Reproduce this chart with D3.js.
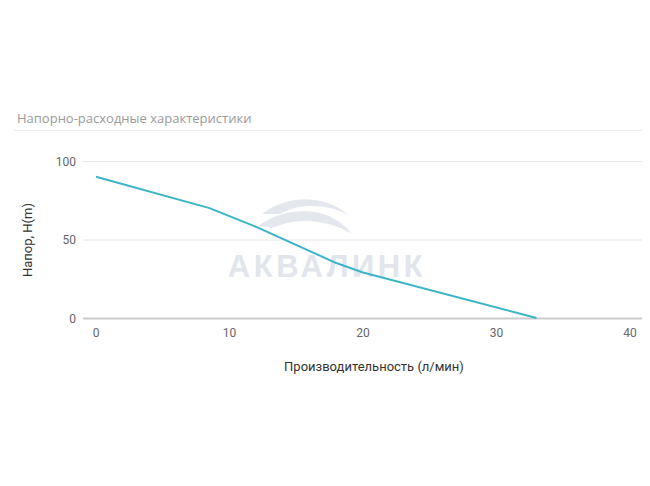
<!DOCTYPE html>
<html><head><meta charset="utf-8">
<script src="https://cdn.jsdelivr.net/npm/d3@7"></script>
<style>body{margin:0;background:#fff;}svg{display:block;}</style>
</head><body>
<svg id="c" width="650" height="486"></svg>
<script>
const flow = [0, 8.5, 12, 18, 20, 33];
const head = [90, 70, 58, 35, 29, 0];
const xTicks = [0, 10, 20, 30, 40];
const yTicks = [0, 50, 100];
const title = "Напорно-расходные характеристики";
const xTitle = "Производительность (л/мин)";
const yTitle = "Напор, H(m)";
const watermark = "АКВАЛИНК";

const svg = d3.select("#c");
const font = "Roboto, 'Noto Sans', sans-serif";
const x = d3.scaleLinear().domain([0, 40]).range([96, 630]);
const y = d3.scaleLinear().domain([0, 100]).range([318, 161]);

svg.append("text").attr("x", 17).attr("y", 123).attr("font-family", "'Open Sans', sans-serif")
  .attr("font-size", 13).attr("fill", "#9a9a9a").text(title);
svg.append("line").attr("x1", 14).attr("x2", 642).attr("y1", 130.5).attr("y2", 130.5)
  .attr("stroke", "#eeeeee");

// watermark
const wm = svg.append("g");
wm.append("path").attr("d", "M262,214 C285,196 322,192 350,216 C330,204 300,202 280,214 Z").attr("fill", "#e4e8ee");
wm.append("path").attr("d", "M258,226 C290,204 330,206 352,234 C330,220 298,216 272,228 Z").attr("fill", "#e4e8ee");
wm.append("text").attr("x", 327).attr("y", 277).attr("text-anchor", "middle")
  .attr("font-family", "'Liberation Sans', Arial, sans-serif").attr("font-weight", "bold")
  .attr("font-size", 31).attr("letter-spacing", 3.5).attr("fill", "#e2e6ec").text(watermark);

// grid
svg.append("g").selectAll("line").data(yTicks).join("line")
  .attr("x1", 83).attr("x2", 642).attr("y1", d => y(d) + 0.5).attr("y2", d => y(d) + 0.5)
  .attr("stroke", d => d === 0 ? "#cccccc" : "#e6e6e6").attr("stroke-width", d => d === 0 ? 2 : 1);

svg.append("g").selectAll("text").data(yTicks).join("text")
  .attr("x", 76).attr("y", d => y(d) + 4.5).attr("text-anchor", "end")
  .attr("font-family", font).attr("font-size", 12).attr("fill", "#666").text(d => d);
svg.append("g").selectAll("text").data(xTicks).join("text")
  .attr("x", d => x(d)).attr("y", 337).attr("text-anchor", "middle")
  .attr("font-family", font).attr("font-size", 12).attr("fill", "#666").text(d => d);

svg.append("text").attr("transform", "translate(32,240) rotate(-90)").attr("text-anchor", "middle")
  .attr("font-family", font).attr("font-size", 13).attr("fill", "#333").text(yTitle);
svg.append("text").attr("x", 374).attr("y", 371).attr("text-anchor", "middle")
  .attr("font-family", font).attr("font-size", 13).attr("fill", "#333").text(xTitle);

const pts = flow.map((f, i) => [f, head[i]]);
svg.append("path").datum(pts)
  .attr("d", d3.line().x(d => x(d[0])).y(d => y(d[1])))
  .attr("fill", "none").attr("stroke", "#3cb4c8").attr("stroke-width", 2)
  .attr("stroke-linejoin", "round");
</script>
</body></html>
